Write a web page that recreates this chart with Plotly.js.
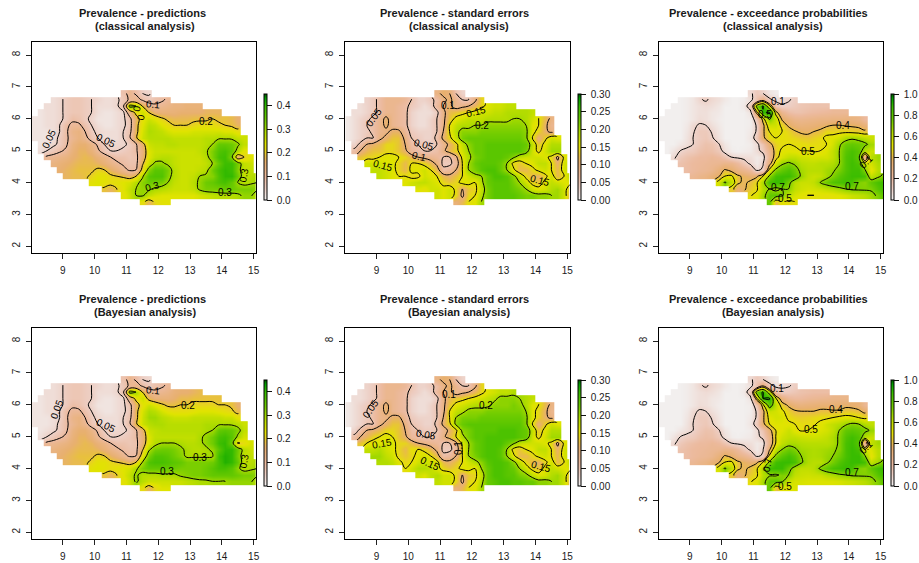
<!DOCTYPE html>
<html><head><meta charset="utf-8">
<script src="https://cdn.plot.ly/plotly-3.0.1.min.js"></script>
<style>html,body{margin:0;padding:0;background:#fff}</style></head>
<body><div id="chart" style="width:919px;height:563px"></div>
<script>
const lonCenters=[8.1,8.3,8.5,8.7,8.9,9.1,9.3,9.5,9.7,9.9,10.1,10.3,10.5,10.7,10.9,11.1,11.3,11.5,11.7,11.9,12.1,12.3,12.5,12.7,12.9,13.1,13.3,13.5,13.7,13.9,14.1,14.3,14.5,14.7,14.9,15.1];
const latCenters=[6.8,6.6,6.4,6.2,6.0,5.8,5.6,5.4,5.2,5.0,4.8,4.6,4.4,4.2,4.0,3.8,3.6,3.4];
const rowStart=[14,3,2,1,0,0,0,0,1,1,2,3,4,5,9,11,14,17];
const rowLength=[5,19,25,29,33,33,33,34,33,33,33,32,31,31,27,25,22,5];

const predClassical=[
[8,12,9,5,4],
[3,4,6,7,7, 6,5,4,3,3, 4,7,11,13,9, 7,8,9,11],
[3,3,4,6,7, 7,6,5,3,3, 3,4,9,33,30, 20,13,11,12,13, 14,14,15,15,15],
[2,3,3,4,6, 7,7,6,5,3, 2,2,3,4,14, 22,26,20,16,15, 15,15,16,16,16, 16,17,17,17],
[2,2,3,3,4, 6,9,8,6,4, 2,2,2,3,4, 8,17,23,26,24, 21,19,18,18,18, 19,19,19,20,19, 19,18,16],
[2,2,3,3,5, 9,11,11,8,5, 3,2,2,3,4, 7,18,24,28,27, 24,22,20,20,20, 21,22,22,22,21, 20,19,17],
[2,2,2,3,5, 9,13,14,10,6, 4,3,3,3,5, 8,18,25,29,28, 27,25,24,24,24, 25,25,25,25,25, 24,24,22],
[2,2,2,3,6, 9,12,14,12,7, 5,3,3,3,5, 9,19,26,28,28, 28,28,27,27,27, 27,27,28,28,29, 29,29,27,26],
[2,3,4,6,9, 14,16,16,13,9, 5,4,4,4,6, 9,17,26,27,27, 28,28,27,27,27, 27,28,30,35,35, 34,31,27],
[3,5,7,9,11, 15,17,17,15,11, 7,5,5,6,7, 9,15,24,26,26, 26,26,26,26,26, 27,29,33,37,38, 35,28,23],
[11,12,13,14,16, 17,18,17,15,13, 10,8,8,7,8, 16,24,27,28,28, 27,26,26,26,26, 28,33,38,39,32, 15,20,24],
[14,15,16,17,18, 18,18,17,15,13, 11,9,8,8,19, 26,31,31,29,27, 26,26,26,26,27, 30,35,39,39,33, 27,26],
[16,17,18,19,19, 19,21,20,17,15, 12,9,10,22,32, 36,36,33,28,26, 26,26,27,28,34, 38,40,39,32,27, 27],
[17,18,18,19,21, 23,23,21,20,19, 17,20,29,36,37, 37,32,28,26,26, 27,30,31,32,37, 40,40,34,27,28, 29],
[23,24,23,22,23, 24,25,28,32,34, 34,33,30,27,26, 26,28,31,34,35, 37,38,35,30,28, 29,30],
[19,17,20,24,27, 30,31,31,29,28, 27,26,26,26,27, 31,33,33,33,34, 34,33,33,33,31],
[23,26,30,31,27, 25,24,24,24,24, 24,24,25,26,27, 28,28,28,29,31, 31,27],
[22,17,21,23,23]];

const predBayes=[
[8,12,9,5,4],
[3,4,6,7,7, 6,5,4,3,3, 4,7,11,13,9, 7,8,9,11],
[3,3,4,6,7, 7,6,5,3,3, 3,4,9,33,30, 20,13,11,12,13, 15,16,16,17,18],
[2,3,3,4,6, 7,7,6,5,3, 2,2,3,4,14, 22,26,18,15,15, 15,16,18,18,19, 19,19,19,19],
[2,2,3,3,4, 6,9,8,6,4, 2,2,2,3,4, 8,17,23,26,24, 21,19,19,20,20, 21,21,21,21,20, 20,19,16],
[2,2,3,3,5, 9,11,11,8,5, 3,2,2,3,4, 7,18,25,29,28, 25,23,22,22,22, 23,24,24,24,23, 22,21,18],
[2,2,2,3,5, 9,13,14,10,6, 4,3,3,3,5, 8,18,26,30,30, 28,27,26,26,26, 27,27,27,27,27, 26,26,23],
[2,2,2,3,6, 9,12,14,12,7, 5,3,3,3,5, 9,19,26,28,29, 29,28,28,28,28, 28,28,29,29,29, 29,29,28,26],
[2,3,4,6,9, 14,16,16,13,9, 5,4,4,4,6, 9,17,26,27,28, 28,28,28,28,28, 28,29,30,35,36, 35,32,27],
[3,5,7,9,11, 15,17,17,15,11, 7,5,5,6,7, 9,15,24,27,27, 27,27,27,27,27, 29,31,34,38,39, 36,29,25],
[11,12,13,14,16, 17,18,17,15,13, 10,8,8,7,8, 16,24,28,30,30, 30,29,28,28,29, 31,34,39,40,34, 19,22,25],
[14,15,16,17,18, 18,18,17,15,13, 11,9,8,8,19, 29,33,34,34,33, 31,29,28,28,29, 31,36,40,40,34, 28,26],
[16,17,18,19,19, 19,21,20,17,15, 12,9,10,24,33, 37,37,36,34,32, 29,29,29,29,29, 39,41,40,33,27, 27],
[17,18,18,19,21, 23,23,21,20,19, 17,20,30,37,38, 38,37,36,35,33, 33,33,33,34,38, 41,40,35,27,28, 29],
[23,24,23,22,23, 24,25,29,33,35, 35,35,35,34,33, 33,33,33,34,36, 38,38,36,31,28, 29,30],
[19,17,20,24,27, 31,28,28,28,29, 29,29,31,32,33, 33,34,35,35,35, 35,34,33,33,31],
[23,26,31,28,26, 26,26,26,26,26, 27,28,29,29,30, 30,30,31,31,31, 31,27],
[22,17,21,24,24]];

const seClassical=[
[9,11,10,5,3],
[3,4,6,8,8, 8,7,5,3,3, 4,6,9,11,8, 5,5,9,14],
[2,3,4,6,8, 8,7,6,4,3, 2,3,7,10,11, 8,9,10,12,14, 16,17,17,18,18],
[2,2,3,4,6, 8,8,7,6,3, 2,2,2,4,9, 12,13,14,15,16, 17,17,18,18,19, 19,19,19,18],
[1,2,3,4,6, 8,11,8,7,6, 3,2,2,3,5, 9,13,16,17,18, 18,18,19,19,19, 19,20,20,19,17, 15,12,9],
[1,2,3,5,6, 8,11,8,7,6, 3,2,2,3,5, 9,15,18,19,19, 20,20,21,21,21, 21,21,21,20,16, 15,11,8],
[1,2,3,4,6, 8,9,11,11,7, 4,3,3,3,5, 10,15,19,21,21, 21,22,22,22,22, 22,22,22,21,16, 14,11,9],
[1,2,3,5,5, 9,11,13,13,9, 5,4,3,3,6, 11,14,18,22,23, 23,23,23,23,23, 23,23,23,21,15, 10,14,17,16],
[3,6,10,11,12, 14,14,13,10,6, 5,4,4,5,8, 11,14,18,21,23, 23,24,24,24,24, 24,24,23,18,13, 16,19,19],
[6,10,12,13,13, 14,14,13,11,7, 6,5,5,6,9, 12,14,17,20,23, 23,24,24,24,24, 24,24,22,17,14, 17,20,20],
[13,14,14,15,16, 16,15,14,12,10, 9,8,7,5,5, 9,16,19,22,23, 24,24,24,23,21, 18,17,17,17,16, 14,9,16],
[17,17,17,16,16, 14,12,15,15,14, 12,9,4,4,7, 15,20,23,24,24, 24,23,20,14,13, 15,16,18,18,15, 11,17],
[18,18,17,16,14, 12,16,16,17,15, 12,6,7,10,15, 20,22,24,25,25, 23,20,16,12,12, 14,16,17,15,12, 17],
[18,17,16,15,15, 14,14,17,16,15, 12,11,13,15,17, 19,20,23,25,25, 24,21,18,14,12, 11,14,17,12,15, 19],
[16,17,18,18,17, 16,14,13,14,16, 16,15,19,23,24, 24,24,22,20,17, 14,13,16,18,17, 16,16],
[16,15,17,17,16, 17,14,10,13,14, 18,22,24,24,24, 23,22,20,17,16, 17,19,20,17,12],
[17,16,17,14,9, 14,15,19,22,24, 24,24,24,23,22, 22,21,21,20,20, 17,11],
[10,12,15,16,20]];

const seBayes=[
[9,11,10,5,3],
[3,4,6,8,8, 8,7,5,3,3, 4,6,9,11,8, 5,5,9,14],
[2,3,4,6,8, 8,7,6,4,3, 2,3,7,10,11, 8,9,10,12,14, 16,17,18,18,19],
[2,2,3,4,6, 8,8,7,6,3, 2,2,2,4,9, 12,13,14,15,16, 17,18,19,21,21, 21,20,19,18],
[1,2,3,4,6, 8,11,8,7,6, 3,2,2,3,5, 9,13,16,17,18, 19,19,19,21,21, 21,22,21,19,16, 15,12,9],
[1,2,3,5,6, 8,11,8,7,6, 3,2,2,3,5, 9,15,18,19,21, 21,21,22,22,22, 22,22,22,20,16, 14,11,8],
[1,2,3,4,6, 8,9,11,11,7, 4,3,3,3,5, 10,15,20,22,22, 22,23,23,23,23, 23,23,23,21,16, 14,11,9],
[1,2,3,5,5, 9,11,13,13,9, 5,4,3,3,6, 11,14,21,23,24, 24,24,24,24,24, 24,24,24,21,15, 10,14,17,16],
[3,6,10,11,12, 14,14,13,10,6, 5,4,4,5,8, 11,14,21,22,24, 24,24,24,25,25, 25,24,23,18,13, 16,19,19],
[6,10,12,14,15, 16,15,13,11,7, 6,5,5,6,9, 12,15,19,22,24, 24,25,25,25,25, 25,24,23,17,14, 17,20,20],
[13,15,16,16,17, 16,14,14,12,10, 9,8,7,5,5, 9,16,20,23,24, 25,25,25,23,21, 18,17,17,17,16, 14,9,16],
[18,18,19,17,16, 14,12,15,15,14, 12,9,4,4,7, 15,20,23,24,25, 25,24,20,14,13, 15,16,18,18,15, 11,17],
[20,20,18,17,14, 13,14,16,17,15, 12,6,7,10,15, 20,22,24,25,25, 24,20,16,12,12, 14,16,17,15,12, 17],
[19,19,18,16,14, 15,17,17,17,16, 12,11,13,15,17, 19,21,24,25,25, 24,21,18,14,12, 11,14,17,12,15, 19],
[15,17,19,19,18, 16,14,13,14,16, 16,15,20,23,25, 25,24,23,20,17, 14,13,16,18,17, 16,16],
[17,16,18,19,17, 17,14,10,13,14, 18,23,25,25,24, 24,22,21,18,16, 17,19,20,17,12],
[18,17,17,14,9, 14,15,19,23,24, 25,25,24,24,23, 23,21,21,20,20, 17,11],
[10,12,15,16,20]];

const excClassical=[
[8,14,10,4,2],
[1,2,4,9,11, 8,6,3,1,1, 2,6,18,32,12, 7,8,9,12],
[1,1,2,4,6, 7,6,4,1,1, 1,3,18,75,92, 55,17,11,12,14, 16,17,18,18,18],
[1,1,1,2,4, 6,6,4,3,1, 1,1,1,5,45, 88,92,45,27,20, 18,18,20,21,22, 23,24,24,24],
[1,1,1,1,2, 4,7,6,4,2, 1,1,1,1,2, 17,45,72,58,38, 32,28,27,28,29, 30,30,31,31,32, 31,29,22],
[1,1,1,1,3, 8,11,10,6,3, 1,1,1,1,2, 11,37,57,57,47, 38,34,32,33,34, 36,38,40,40,39, 38,37,33],
[1,1,1,1,4, 9,14,14,9,4, 1,1,1,1,3, 11,38,50,52,50, 46,41,38,37,40, 42,47,46,47,47, 46,45,42],
[1,1,1,1,5, 10,13,15,11,5, 1,1,1,1,4, 15,37,48,50,50, 48,47,45,44,46, 48,52,54,58,65, 68,66,62,58],
[1,1,4,6,10, 15,18,17,11,4, 1,1,1,2,7, 17,36,46,48,50, 49,49,48,48,48, 50,56,68,76,78, 76,73,66],
[1,5,10,13,14, 18,20,19,15,6, 2,1,2,3,7, 13,28,45,52,53, 52,50,50,49,50, 54,60,70,80,84, 80,62,58],
[8,15,18,20,22, 22,24,22,17,10, 8,7,6,3,5, 28,46,55,60,60, 57,56,55,56,56, 60,70,82,85,78, 20,62,67],
[18,20,22,23,24, 25,26,28,27,22, 15,8,3,9,35, 55,68,72,68,62, 60,60,62,62,64, 70,82,86,82,55, 56,64],
[20,22,24,25,27, 33,41,36,30,27, 22,7,12,52,72, 78,83,76,66,62, 62,62,66,68,74, 82,86,86,72,50, 62],
[25,28,30,34,38, 50,52,42,38,35, 38,50,72,85,87, 87,80,68,60,58, 60,66,72,80,84, 87,87,84,60,66, 74],
[55,72,60,42,38, 42,48,65,85,88, 87,74,62,58,58, 60,70,76,82,84, 86,84,72,70,78, 84,87],
[44,34,38,45,48, 62,70,65,70,70, 60,57,55,56,57, 60,62,66,70,72, 72,72,72,80,86],
[49,53,65,78,80, 72,60,55,52,50, 50,51,50,51,53, 55,58,60,62,66, 72,80],
[78,40,52,48,50]];

const excBayes=[
[8,14,10,4,2],
[1,2,4,9,11, 8,6,3,1,1, 2,6,18,38,14, 7,8,9,12],
[1,1,2,4,6, 7,6,4,1,1, 1,3,18,78,92, 60,20,13,14,16, 18,19,20,20,20],
[1,1,1,2,4, 6,6,4,3,1, 1,1,1,5,48, 90,92,52,32,24, 22,22,24,25,26, 27,28,28,28],
[1,1,1,1,2, 4,7,6,4,2, 1,1,1,1,2, 17,47,80,60,45, 38,34,32,33,34, 35,35,35,36,37, 36,34,25],
[1,1,1,1,3, 8,11,10,6,3, 1,1,1,1,2, 11,37,58,56,52, 45,41,40,40,40, 42,42,41,41,44, 44,42,37],
[1,1,1,1,4, 9,14,14,9,4, 1,1,1,1,3, 11,38,53,56,55, 48,46,45,46,47, 48,48,50,52,53, 52,50,47],
[1,1,1,1,5, 10,13,15,11,5, 1,1,1,1,4, 15,37,50,53,53, 52,50,48,48,49, 52,57,60,63,68, 72,70,64,60],
[1,1,4,6,10, 15,18,17,11,4, 1,1,1,2,7, 17,36,50,53,58, 52,49,50,52,54, 56,60,70,78,80, 78,74,68],
[1,5,10,13,14, 18,20,19,15,6, 2,1,2,3,7, 13,30,50,57,60, 60,58,57,57,58, 60,64,72,82,86, 82,62,58],
[8,15,18,20,22, 22,24,22,17,10, 8,7,6,3,5, 30,50,60,65,65, 63,62,62,62,62, 64,72,84,87,80, 15,60,66],
[18,20,22,23,24, 25,26,28,27,22, 15,8,3,9,38, 60,70,76,72,66, 65,64,65,66,68, 72,84,88,84,50, 54,62],
[20,22,24,25,27, 33,41,36,30,27, 22,7,12,52,72, 80,85,80,70,65, 64,65,68,70,76, 84,88,88,72,50, 62],
[25,28,30,34,38, 50,52,42,38,35, 38,50,72,86,88, 88,84,72,64,62, 62,68,74,82,86, 88,88,85,60,66, 74],
[55,72,60,42,38, 42,48,65,86,88, 88,76,64,60,60, 62,72,78,84,86, 88,85,72,70,78, 85,88],
[44,34,38,45,48, 62,68,68,72,70, 60,58,57,58,58, 62,64,68,70,72, 72,72,72,80,86],
[49,53,65,78,80, 72,58,55,55,54, 54,54,54,54,55, 57,58,60,62,66, 72,80],
[78,40,52,52,54]];

const xTicks=[9,10,11,12,13,14,15];
const yTicks=[2,3,4,5,6,7,8];
const predLevels=[0.05,0.1,0.2,0.3];
const seLevels=[0.05,0.1,0.15,0.2];
const excLevels=[0.1,0.4,0.5,0.7,0.9];
const predTicks=[0,0.1,0.2,0.3,0.4], predTickText=['0.0','0.1','0.2','0.3','0.4'];
const seTicks=[0,0.05,0.1,0.15,0.2,0.25,0.3], seTickText=['0.00','0.05','0.10','0.15','0.20','0.25','0.30'];
const excTicks=[0,0.2,0.4,0.6,0.8,1], excTickText=['0.0','0.2','0.4','0.6','0.8','1.0'];
const titleKinds=['Prevalence - predictions','Prevalence - standard errors','Prevalence - exceedance probabilities'];
const titleRows=['(classical analysis)','(Bayesian analysis)'];

// contour labels: text, lon, lat, angle
const labelsPredClassical=[['0.05',8.57,5.38,-65],['0.05',10.35,5.32,25],['0.1',11.85,6.46,5],['0.2',13.51,5.91,0],['0.3',11.8,3.88,-15],['0.3',14.11,3.7,0],['0.3',14.69,4.22,-80],['0',11.33,6.32,-80],['0',11.47,6.06,-80]];
const labelsSeClassical=[['0.05',8.91,6.04,-55],['0.05',10.48,5.2,15],['0.1',10.35,4.82,15],['0.15',9.2,4.54,15],['0.1',11.24,6.42,0],['0.15',12.14,6.24,-15],['0.2',12.32,5.78,0],['0.15',14.15,4.07,15]];
const labelsExcClassical=[['0.1',11.77,6.55,0],['0.5',11.37,6.14,0],['0.4',13.8,5.8,0],['0.5',12.71,4.99,0],['0.7',11.77,3.86,0],['0.7',14.11,3.89,0],['0.5',11.98,3.5,0],['0.1',14.55,4.66,-45]];
const labelsPredBayes=[['0.05',8.83,5.87,-70],['0.05',10.35,5.35,25],['0.1',11.85,6.45,5],['0.2',12.92,5.97,0],['0.3',13.32,4.34,0],['0.3',12.27,3.9,0],['0.3',14.71,4.24,-80]];
const labelsSeBayes=[['0.05',8.83,5.87,-55],['0.05',10.55,5.06,10],['0.1',11.27,6.33,0],['0.15',9.17,4.79,-10],['0.15',10.67,4.16,25],['0.2',12.43,5.97,0],['0.15',14.17,4.05,15],['0.1',11.58,4.63,-90]];
const labelsExcBayes=[['0.1',11.75,6.52,0],['0.4',13.6,5.84,0],['0.5',12.8,5.24,0],['0.7',14.1,3.87,0],['0.7',11.42,4.11,-80],['0.5',12.0,3.45,0],['0.1',14.53,4.66,-45]];

const colors=[[0,'#f2f2f2'],[0.11,'#edd0c6'],[0.22,'#ecba9e'],[0.36,'#e8b070'],[0.42,'#e8c040'],[0.48,'#e6dc10'],[0.53,'#e0e400'],[0.64,'#b0dc00'],[0.75,'#70cc00'],[0.88,'#38bc00'],[0.96,'#00a000'],[1,'#005000']];
const W=919,H=563,FONT='"Liberation Sans",Arial,sans-serif',TXT='#1a1a1a';
const colL=[31.7,345.3,658.7], boxW=224.5, rowT=[42,328], boxH=211, cbOff=232.6, cbDy=52;
const line1Shift=[-1,-3,-2], line2Shift=[1,1.5,2];

function grid(rows){
  const out=[];
  rows.forEach((r,k)=>{
    if(r.length!==rowLength[k]) throw new Error('row '+k+' len '+r.length+' expected '+rowLength[k]);
    const a=lonCenters.map(()=>null);
    r.forEach((v,j)=>{a[rowStart[k]+j]=v/100;});
    out.push(a);
  });
  return out;
}
const panels=[
 {d:predClassical,lv:predLevels,lab:labelsPredClassical,zmax:0.45,t:predTicks,tt:predTickText,c:0,r:0},
 {d:seClassical,lv:seLevels,lab:labelsSeClassical,zmax:0.30,t:seTicks,tt:seTickText,c:1,r:0},
 {d:excClassical,lv:excLevels,lab:labelsExcClassical,zmax:1,t:excTicks,tt:excTickText,c:2,r:0},
 {d:predBayes,lv:predLevels,lab:labelsPredBayes,zmax:0.45,t:predTicks,tt:predTickText,c:0,r:1},
 {d:seBayes,lv:seLevels,lab:labelsSeBayes,zmax:0.30,t:seTicks,tt:seTickText,c:1,r:1},
 {d:excBayes,lv:excLevels,lab:labelsExcBayes,zmax:1,t:excTicks,tt:excTickText,c:2,r:1}];
const traces=[];
const layout={width:W,height:H,margin:{l:0,r:0,t:0,b:0},paper_bgcolor:'#fff',plot_bgcolor:'#fff',showlegend:false,
  font:{family:FONT,size:10,color:TXT},annotations:[]};
panels.forEach((p,n)=>{
  const id=n===0?'':String(n+1);
  const xa='x'+id, ya='y'+id;
  const x0=colL[p.c], top=rowT[p.r];
  const common={showline:true,mirror:true,linecolor:'#000',linewidth:1,ticks:'outside',ticklen:5,tickwidth:1,tickcolor:'#222',
    showgrid:false,zeroline:false,tickfont:{family:FONT,size:10,color:TXT},fixedrange:true};
  layout['xaxis'+id]=Object.assign({},common,{domain:[x0/W,(x0+boxW)/W],range:[8.02,15.08],tickmode:'array',tickvals:xTicks,ticktext:xTicks.map(String),anchor:ya,ticklabelstandoff:3});
  layout['yaxis'+id]=Object.assign({},common,{domain:[1-(top+boxH)/H,1-top/H],range:[1.79,8.41],tickmode:'array',tickvals:yTicks,ticktext:yTicks.map(String),tickangle:-90,anchor:xa,ticklabelstandoff:2});
  const z=grid(p.d);
  traces.push({type:'heatmap',x:lonCenters,y:latCenters,z:z,xaxis:xa,yaxis:ya,zmin:0,zmax:p.zmax,colorscale:colors,hoverinfo:'skip',zsmooth:'best',
    colorbar:{x:(x0+cbOff)/W,xanchor:'left',y:1-(top+cbDy)/H,yanchor:'top',lenmode:'pixels',len:106,thicknessmode:'pixels',thickness:3,
      xpad:0,ypad:0,outlinewidth:1,outlinecolor:'#000',borderwidth:0,ticks:'outside',ticklen:5,tickwidth:1,tickcolor:'#111',
      tickmode:'array',tickvals:p.t,ticktext:p.tt.map(s=>'\u00a0'+s),tickfont:{family:FONT,size:10,color:TXT}}});
  p.lv.forEach(l=>{
    traces.push({type:'contour',x:lonCenters,y:latCenters,z:z,xaxis:xa,yaxis:ya,showscale:false,autocontour:false,hoverinfo:'skip',
      contours:{coloring:'none',start:l,end:l,size:1,showlabels:false},
      line:{color:'#000',width:1,smoothing:1}});
  });
  p.lab.forEach(L=>{
    layout.annotations.push({xref:xa,yref:ya,x:L[1],y:L[2],text:L[0],textangle:L[3],showarrow:false,xanchor:'center',yanchor:'middle',font:{family:FONT,size:10,color:'#000'}});
  });
  const cx=x0+boxW/2;
  layout.annotations.push({xref:'paper',yref:'paper',x:(cx+line1Shift[p.c])/W,y:1-(top-29)/H,yanchor:'middle',xanchor:'center',showarrow:false,text:'<b>'+titleKinds[p.c]+'</b>',font:{family:FONT,size:11,color:TXT}});
  layout.annotations.push({xref:'paper',yref:'paper',x:(cx+line2Shift[p.c])/W,y:1-(top-16)/H,yanchor:'middle',xanchor:'center',showarrow:false,text:'<b>'+titleRows[p.r]+'</b>',font:{family:FONT,size:11,color:TXT}});
});
Plotly.newPlot('chart',traces,layout,{staticPlot:true,displayModeBar:false});
</script></body></html>
